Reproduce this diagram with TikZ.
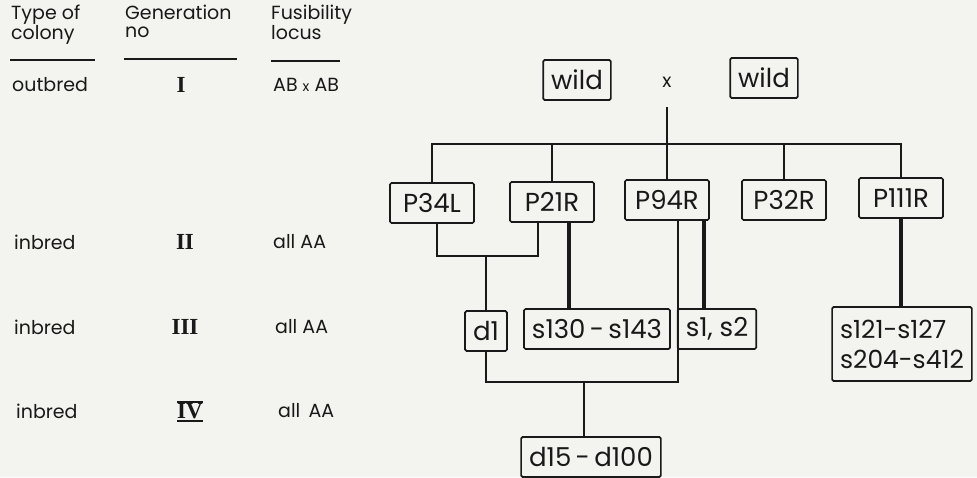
\documentclass[tikz,border=0pt]{standalone}
\usepackage{fontspec}
\setmainfont{Poppins}
\newfontfamily\romfont{Liberation Serif}
\usepackage{xcolor}
\definecolor{paper}{RGB}{243,244,239}
\definecolor{ink}{RGB}{25,25,25}

\tikzset{
  lbl/.style={font=\fontsize{19}{18}\selectfont, text=ink, inner sep=0pt},
  gen/.style={font=\fontsize{23}{22}\romfont\bfseries, text=ink, inner sep=0pt},
  box/.style={draw=ink, line width=1.7pt, rounded corners=1.5pt, text=ink,
    font=\fontsize{26}{29}\selectfont, inner xsep=8pt, minimum height=40pt},
  pbox/.style={box, minimum width=84pt},
  link/.style={draw=ink, line width=1.5pt},
  heavy/.style={draw=ink, line width=3.2pt},
  rule/.style={draw=ink, line width=1.8pt},
}

\begin{document}
\begin{tikzpicture}[x=1pt, y=-1pt]
  \fill[paper] (0,0) rectangle (977,477);
  \useasboundingbox (0,0) rectangle (977,477);

  % column heads
  \node[lbl, anchor=north west, align=left] (typehd) at (11,5) {Type of\\colony};
  \node[lbl, anchor=north west, align=left] (genhd) at (125,5) {Generation\\no};
  \node[lbl, anchor=north west, align=left] (fushd) at (271,5) {Fusibility\\locus};
  \draw[rule] (10,60) -- (95,60);
  \draw[rule] (124,59) -- (237,59);
  \draw[rule] (271,61) -- (340,61);

  % rows
  \node[lbl, anchor=west] (type1) at (12,85) {outbred};
  \node[lbl, anchor=west] (type2) at (14,242) {inbred};
  \node[lbl, anchor=west] (type3) at (14,327) {inbred};
  \node[lbl, anchor=west] (type4) at (16,411) {inbred};
  \node[gen] (gen1) at (181,85) {I};
  \node[gen] (gen2) at (185,242) {II};
  \node[gen] (gen3) at (185,327) {III};
  \node[gen] (gen4) at (190,411) {IV};
  \draw[rule] ([yshift=1pt]gen4.north west) -- ([yshift=1pt]gen4.north east);
  \draw[rule] ([yshift=-2pt]gen4.south west) -- ([yshift=-2pt]gen4.south east);
  \node[lbl, anchor=west] (fus1) at (273,85) {AB {\fontsize{14}{14}\selectfont x} AB};
  \node[lbl, anchor=west] (fus2) at (273,242) {all AA};
  \node[lbl, anchor=west] (fus3) at (275,327) {all AA};
  \node[lbl, anchor=west] (fus4) at (278,411) {all\, AA};

  % generation I
  \node[box] (wildL) at (577,80) {wild};
  \node[lbl] (cross) at (667,82) {x};
  \node[box] (wildR) at (764,78) {wild};
  \coordinate (crossend) at (667,107);
  \coordinate (bus) at (667,144);

  % generation II
  \node[pbox] (P34L) at (432,203) {P34L};
  \node[pbox] (P21R) at (552,202) {P21R};
  \node[pbox] (P94R) at (667,200) {P94R};
  \node[pbox] (P32R) at (784,200) {P32R};
  \node[pbox] (P111R) at (901,198) {P111R};

  % generation III
  \node[box] (d1) at (486,331) {d1};
  \node[box] (s130) at (597,329) {s130\,-\,s143};
  \node[box] (s1) at (717,329) {s1, s2};
  \node[box, align=left, minimum height=74pt, font=\fontsize{25}{30}\selectfont] (s121) at (902,344) {s121-s127\\s204-s412};
  \coordinate (join1) at (486,256);
  \coordinate (join2) at (584,382);

  % generation IV
  \node[box] (d15) at (591,457) {d15\,-\,d100};

  \draw[link] (crossend) -- (bus);
  \draw[link] (P34L.north) |- (bus) -| (P111R.north);
  \draw[link] (P21R.north) -- (P21R.north |- bus);
  \draw[link] (P94R.north) -- (P94R.north |- bus);
  \draw[link] (P32R.north) -- (P32R.north |- bus);

  \draw[link] ([xshift=5pt]P34L.south) |- (join1) -| ([xshift=-14pt]P21R.south);
  \draw[link] (join1) -- (d1.north);
  \draw[heavy] ([xshift=17pt]P21R.south) -- ([xshift=17pt]P21R.south |- s130.north);
  \draw[heavy] ([xshift=37pt]P94R.south) -- ([xshift=37pt]P94R.south |- s1.north);
  \draw[heavy] (P111R.south) -- (P111R.south |- s121.north);

  \draw[link] (d1.south) |- (join2) -| ([xshift=11pt]P94R.south);
  \draw[link] (join2) -- (join2 |- d15.north);
\end{tikzpicture}
\end{document}
